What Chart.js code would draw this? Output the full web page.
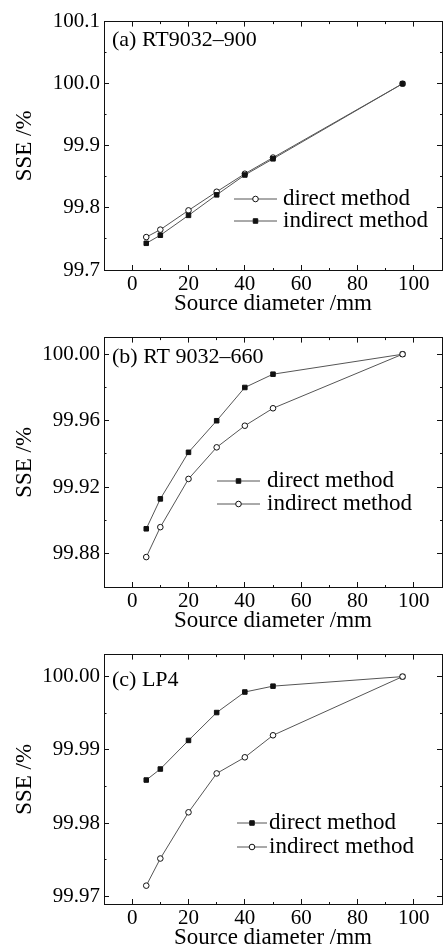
<!DOCTYPE html>
<html>
<head>
<meta charset="utf-8">
<script src="https://cdn.jsdelivr.net/npm/chart.js@4.4.1/dist/chart.umd.min.js"></script>
<style>
  body { margin: 0; background: #fff; width: 443px; height: 949px; overflow: hidden; position: relative; }
  canvas { position: absolute; left: 0; }
</style>
</head>
<body>
<canvas id="ca" width="443" height="316" style="top:0px"></canvas>
<canvas id="cb" width="443" height="317" style="top:316px"></canvas>
<canvas id="cc" width="443" height="317" style="top:633px"></canvas>
<script>
// source diameter /mm, same for the three panels
var diameters = [5, 10, 20, 30, 40, 50, 96];

// (a) RT9032-900
var directA   = [99.753, 99.765, 99.796, 99.826, 99.855, 99.881, 100.0];
var indirectA = [99.743, 99.756, 99.788, 99.821, 99.853, 99.879, 100.0];
// (b) RT 9032-660
var directB   = [99.895, 99.913, 99.941, 99.960, 99.980, 99.988, 100.0];
var indirectB = [99.878, 99.896, 99.925, 99.944, 99.957, 99.9675, 100.0];
// (c) LP4
var directC   = [99.9859, 99.9874, 99.9913, 99.9951, 99.9979, 99.9987, 100.0];
var indirectC = [99.9715, 99.9752, 99.9815, 99.9868, 99.989, 99.992, 100.0];

// tick values
var xMajor  = [0, 20, 40, 60, 80, 100];
var xMinor  = [10, 30, 50, 70, 90];
var yMajorA = [99.7, 99.8, 99.9, 100.0, 100.1];
var yMinorA = [99.75, 99.85, 99.95, 100.05];
var yMajorB = [99.88, 99.92, 99.96, 100.00];
var yMinorB = [99.90, 99.94, 99.98];
var yMajorC = [99.97, 99.98, 99.99, 100.00];
var yMinorC = [99.975, 99.985, 99.995];

var FONT = "'Liberation Serif', 'Times New Roman', serif";

function makeTicks(major, minor) {
  var t = major.map(function (v) { return {value: v}; })
    .concat(minor.map(function (v) { return {value: v, minor: true}; }));
  t.sort(function (a, b) { return a.value - b.value; });
  return t;
}

// ticks point inward; minor ones are cut short with a dash
function frameGrid(side) {
  var dash = (side === 'bottom' || side === 'right') ? [3, 20] : [0, 2.5, 3, 20];
  return {
    display: true,
    drawOnChartArea: false,
    drawTicks: true,
    tickLength: -5,
    tickWidth: 1,
    tickColor: '#111',
    tickBorderDash: function (c) { return c.tick && c.tick.minor ? dash : []; }
  };
}

var frameBorder = {display: true, color: '#111', width: 1};

function series(label, ys, style, order) {
  return {
    label: label,
    data: diameters.map(function (d, i) { return {x: d, y: ys[i]}; }),
    borderColor: '#555',
    borderWidth: 1,
    pointStyle: style,
    pointRadius: style === 'rect' ? 3.2 : 2.8,
    pointBorderWidth: 1,
    pointBorderColor: '#111',
    pointBackgroundColor: style === 'rect' ? '#111' : '#fff',
    tension: 0,
    order: order
  };
}

var panelDecor = {
  id: 'panelDecor',
  afterDraw: function (chart, args, opts) {
    var ctx = chart.ctx;
    ctx.save();
    ctx.textBaseline = 'middle';
    ctx.textAlign = 'left';
    ctx.fillStyle = '#000';
    ctx.font = '22px ' + FONT;
    ctx.fillText(opts.tag, opts.tagX, opts.tagY);
    ctx.font = '23px ' + FONT;
    chart.data.datasets.forEach(function (ds, i) {
      var y = opts.legendY[i];
      var x0 = opts.legendX, x1 = x0 + opts.lineW, xm = (x0 + x1) / 2;
      ctx.strokeStyle = ds.borderColor;
      ctx.lineWidth = ds.borderWidth;
      ctx.beginPath(); ctx.moveTo(x0, y); ctx.lineTo(x1, y); ctx.stroke();
      ctx.fillStyle = ds.pointBackgroundColor;
      ctx.strokeStyle = ds.pointBorderColor;
      ctx.lineWidth = ds.pointBorderWidth;
      ctx.beginPath();
      if (ds.pointStyle === 'rect') {
        var s = ds.pointRadius * Math.SQRT1_2;
        ctx.rect(xm - s, y - s, 2 * s, 2 * s);
      } else {
        ctx.arc(xm, y, ds.pointRadius, 0, 2 * Math.PI);
      }
      ctx.fill(); ctx.stroke();
      ctx.fillStyle = '#000';
      ctx.fillText(ds.label, x1 + opts.gap, y);
    });
    ctx.restore();
  }
};

function makePanel(id, p) {
  var yTickFn = function (s) { s.ticks = makeTicks(p.yMajor, p.yMinor); };
  var xTickFn = function (s) { s.ticks = makeTicks(xMajor, xMinor); };
  return new Chart(document.getElementById(id), {
    type: 'line',
    data: {datasets: p.datasets},
    plugins: [panelDecor],
    options: {
      responsive: false,
      animation: false,
      devicePixelRatio: 1,
      layout: {autoPadding: false, padding: {top: p.plotTop, right: 1, bottom: 0, left: 0}},
      plugins: {
        legend: {display: false},
        tooltip: {enabled: false},
        panelDecor: p.decor
      },
      scales: {
        x: {
          type: 'linear', position: 'bottom', min: -10, max: 110,
          afterBuildTicks: xTickFn,
          afterFit: function (s) { s.height = p.bottomH; s.paddingLeft = 0; s.paddingRight = 0; },
          ticks: {
            autoSkip: false, maxRotation: 0, padding: 7, color: '#000',
            font: {family: FONT, size: 21},
            callback: function (v, i, t) { return t[i].minor ? '' : String(v); }
          },
          grid: frameGrid('bottom'),
          border: frameBorder,
          title: {
            display: true, text: 'Source diameter /mm', color: '#000',
            font: {family: FONT, size: 23, lineHeight: 1},
            padding: {top: 0, bottom: 1}
          }
        },
        x2: {
          type: 'linear', position: 'top', min: -10, max: 110,
          afterBuildTicks: xTickFn,
          afterFit: function (s) { s.height = 0; },
          ticks: {display: false},
          grid: frameGrid('top'),
          border: frameBorder
        },
        y: {
          type: 'linear', position: 'left', min: p.yMin, max: p.yMax,
          afterBuildTicks: yTickFn,
          afterFit: function (s) { s.width = 104; },
          ticks: {
            autoSkip: false, padding: 9, color: '#000',
            font: {family: FONT, size: 21},
            callback: function (v, i, t) { return t[i].minor ? '' : v.toFixed(p.dec); }
          },
          grid: frameGrid('left'),
          border: frameBorder,
          title: {
            display: true, text: 'SSE /%', color: '#000',
            font: {family: FONT, size: 23, lineHeight: 1},
            padding: {top: 13, bottom: 0}
          }
        },
        y2: {
          type: 'linear', position: 'right', min: p.yMin, max: p.yMax,
          afterBuildTicks: yTickFn,
          afterFit: function (s) { s.width = 0; },
          ticks: {display: false},
          grid: frameGrid('right'),
          border: frameBorder
        }
      }
    }
  });
}

makePanel('ca', {
  plotTop: 16, bottomH: 46,
  yMin: 99.7, yMax: 100.1, yMajor: yMajorA, yMinor: yMinorA, dec: 1,
  datasets: [
    series('direct method', directA, 'circle', 1),
    series('indirect method', indirectA, 'rect', 0)
  ],
  decor: {tag: '(a) RT9032\u2013900', tagX: 112, tagY: 40,
          legendX: 234, legendY: [199, 221], lineW: 43, gap: 6}
});

makePanel('cb', {
  plotTop: 17, bottomH: 46,
  yMin: 99.86, yMax: 100.01, yMajor: yMajorB, yMinor: yMinorB, dec: 2,
  datasets: [
    series('direct method', directB, 'rect', 1),
    series('indirect method', indirectB, 'circle', 0)
  ],
  decor: {tag: '(b) RT 9032\u2013660', tagX: 112, tagY: 41,
          legendX: 217, legendY: [165, 188], lineW: 43, gap: 7}
});

makePanel('cc', {
  plotTop: 20, bottomH: 46,
  yMin: 99.969, yMax: 100.003, yMajor: yMajorC, yMinor: yMinorC, dec: 2,
  datasets: [
    series('direct method', directC, 'rect', 1),
    series('indirect method', indirectC, 'circle', 0)
  ],
  decor: {tag: '(c) LP4', tagX: 112, tagY: 47,
          legendX: 237, legendY: [190, 214], lineW: 30, gap: 2}
});
</script>
</body>
</html>
